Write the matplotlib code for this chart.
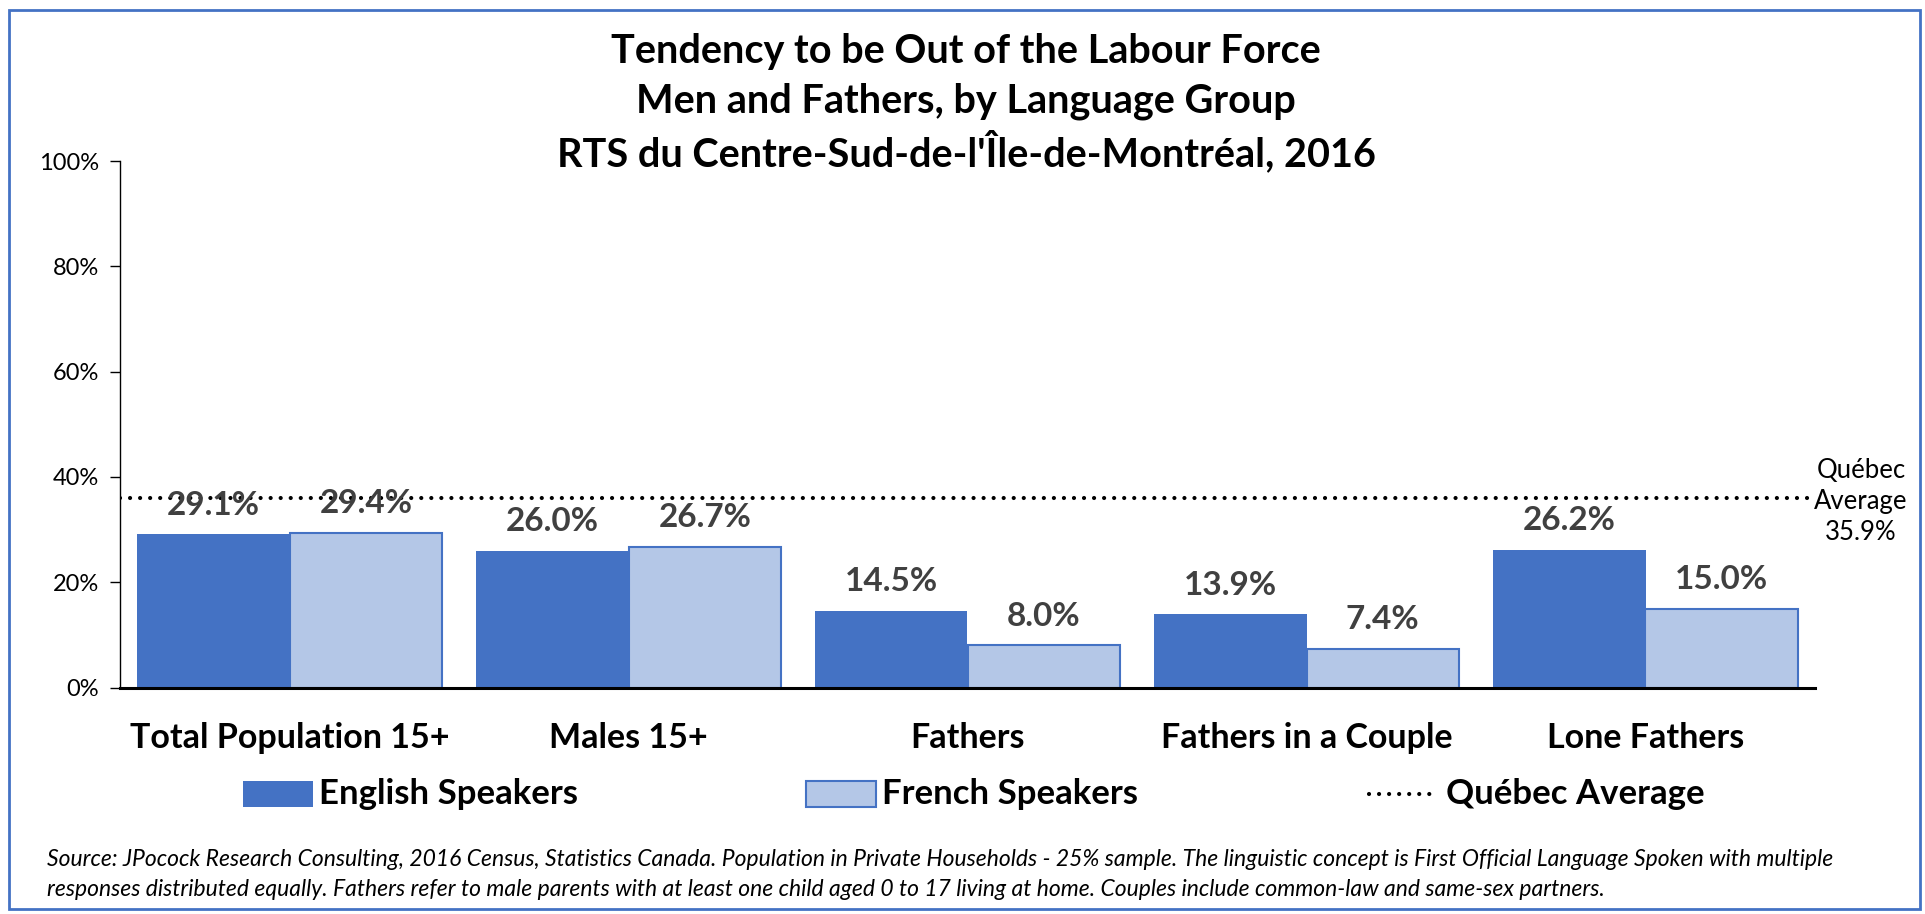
import numpy as np
import matplotlib.pyplot as plt
from matplotlib.patches import Rectangle
from matplotlib.lines import Line2D

plt.rcParams['font.family'] = ['Lato', 'DejaVu Sans']

# data
categories = ['Total Population 15+', 'Males 15+', 'Fathers',
              'Fathers in a Couple', 'Lone Fathers']
english = [29.1, 26.0, 14.5, 13.9, 26.2]
french = [29.4, 26.7, 8.0, 7.4, 15.0]
quebec_avg = 35.9
yticks = [0, 20, 40, 60, 80, 100]

title_lines = ['Tendency to be Out of the Labour Force',
               'Men and Fathers, by Language Group',
               "RTS du Centre-Sud-de-l'Île-de-Montréal, 2016"]
note1 = ('Source: JPocock Research Consulting, 2016 Census, Statistics Canada. Population in Private '
         'Households - 25% sample. The linguistic concept is First Official Language Spoken with multiple')
note2 = ('responses distributed equally. Fathers refer to male parents with at least one child aged 0 to 17 '
         'living at home. Couples include common-law and same-sex partners.')

blue = '#4472C4'
light = '#B4C7E7'
W, H = 1925, 914
dots = (0, (0.01, 2.4))

fig = plt.figure(figsize=(W / 100, H / 100), dpi=100)
ax = fig.add_axes([120 / W, 1 - 687.5 / H, 1695 / W, 526.5 / H])

x = np.arange(len(categories))
bw = 0.45
ax.bar(x - bw / 2, english, bw, color=blue, zorder=2)
ax.bar(x + bw / 2, french, bw, color=light, edgecolor=blue, linewidth=1.5, zorder=2)

for xs, vals in [(x - bw / 2, english), (x + bw / 2, french)]:
    for xi, v in zip(xs, vals):
        ax.annotate(f'{v:.1f}%', (xi, v), xytext=(0, 21), textcoords='offset points',
                    ha='center', va='center', fontsize=24, fontweight='bold',
                    color='#404040', zorder=4)

ax.axhline(quebec_avg, color='black', linewidth=3, linestyle=dots,
           dash_capstyle='round', zorder=3)

ax.set_xlim(-0.5, len(categories) - 0.5)
ax.set_ylim(0, 100)
ax.set_yticks(yticks)
ax.set_yticklabels([f'{t}%' for t in yticks], fontsize=17)
ax.tick_params(axis='y', length=7, width=1, pad=8)
ax.set_xticks([])
for s in ['top', 'right']:
    ax.spines[s].set_visible(False)
ax.spines['left'].set_linewidth(1)
ax.spines['bottom'].set_linewidth(2.2)

for xi, c in zip(x, categories):
    ax.text(xi, -0.095, c, transform=ax.get_xaxis_transform(), ha='center', va='center',
            fontsize=24.5, fontweight='bold')

for ty, line in zip([52, 101, 152], title_lines):
    fig.text(0.502, 1 - ty / H, line, ha='center', va='center', fontsize=28.5,
             fontweight='bold')

fig.text(1861 / W, 1 - 501 / H, 'Québec\nAverage\n35.9%', ha='center', va='center',
         fontsize=18.5, linespacing=1.3)

# legend drawn by hand to match the spread-out layout
ly = 1 - 794 / H
ph = 26 / H
fig.add_artist(Rectangle((243 / W, ly - ph / 2), 70 / W, ph, transform=fig.transFigure,
                         facecolor=blue, edgecolor='none'))
fig.text(319 / W, ly, 'English Speakers', ha='left', va='center', fontsize=25, fontweight='bold')
fig.add_artist(Rectangle((806 / W, ly - ph / 2), 70 / W, ph, transform=fig.transFigure,
                         facecolor=light, edgecolor=blue, linewidth=1.5))
fig.text(882 / W, ly, 'French Speakers', ha='left', va='center', fontsize=25, fontweight='bold')
fig.add_artist(Line2D([1369 / W, 1434 / W], [ly, ly], transform=fig.transFigure, color='black',
                      linewidth=3, linestyle=dots, dash_capstyle='round'))
fig.text(1446 / W, ly, 'Québec Average', ha='left', va='center', fontsize=25, fontweight='bold')

fig.text(47 / W, 1 - 859 / H, note1, ha='left', va='center', fontsize=16.5, style='italic')
fig.text(47 / W, 1 - 890 / H, note2, ha='left', va='center', fontsize=16.5, style='italic')

fig.add_artist(Rectangle((9 / W, 5 / H), 1911 / W, 899 / H, transform=fig.transFigure,
                         facecolor='none', edgecolor=blue, linewidth=2))

fig.savefig('out.png', dpi=100)
